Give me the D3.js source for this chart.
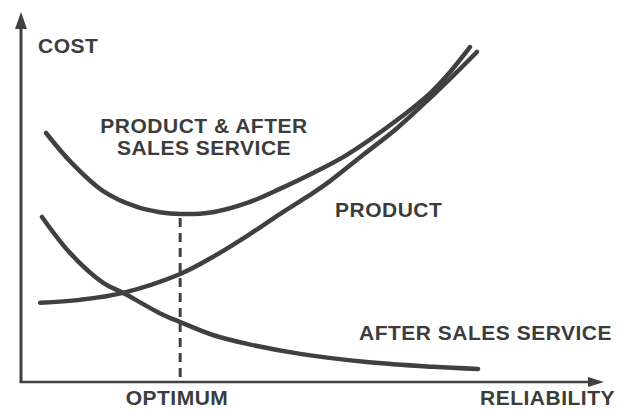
<!DOCTYPE html>
<html>
<head>
<meta charset="utf-8">
<script src="https://cdn.jsdelivr.net/npm/d3@7"></script>
<style>
    body { margin: 0; background: #fff; }
    .lbl { font-family: "Liberation Sans", Arial, sans-serif; font-weight: bold; font-size: 21px; fill: #3c3c3c; letter-spacing: 0.5px; }
</style>
</head>
<body>
<div id="chart"></div>
<script>
// curves: reliability (0-100) vs cost (0-100)
let productX   = [3.3, 10.1, 17.5, 27.3, 32.9, 38.8, 44.4, 50.1, 53.0, 58.7, 64.5, 70.2, 74.4, 78.2];
let productY   = [21.4, 22.2, 24.1, 29.2, 33.8, 39.5, 45.4, 51.1, 54.3, 61.4, 68.6, 76.8, 83.2, 89.2];

let combinedX  = [4.3, 8.4, 14.1, 19.9, 23.8, 27.3, 32.9, 38.8, 44.4, 50.1, 55.9, 64.5, 70.2, 73.6, 77.0];
let combinedY  = [67.3, 59.7, 51.6, 47.3, 45.9, 45.4, 45.9, 48.4, 52.2, 56.5, 61.4, 70.8, 78.1, 83.8, 90.5];

let serviceX   = [3.6, 8.4, 14.1, 17.5, 23.8, 27.3, 32.9, 38.8, 47.9, 59.3, 70.7, 78.4];
let serviceY   = [44.6, 34.9, 26.8, 24.1, 18.6, 16.2, 12.7, 10.3, 7.6, 5.4, 4.1, 3.5];

let optimumX = 27.3;
let optimumY = 45.4;

let width = 627, height = 410;
let margin = {top: 12, right: 23, bottom: 28, left: 21};

let svg = d3.select("#chart").append("svg")
    .attr("width", width)
    .attr("height", height);

let x = d3.scaleLinear().domain([0, 100]).range([margin.left, width - margin.right]);
let y = d3.scaleLinear().domain([0, 100]).range([height - margin.bottom, margin.top]);

let ink = "#404040";

// axes with arrow heads
let x0 = x(0), y0 = y(0), xEnd = x(100), yEnd = y(100);

svg.append("line")
    .attr("x1", x0).attr("y1", y0)
    .attr("x2", x0).attr("y2", yEnd + 14)
    .attr("stroke", ink).attr("stroke-width", 3);

svg.append("path")
    .attr("d", `M${x0},${yEnd} L${x0 - 6},${yEnd + 17} L${x0 + 6},${yEnd + 17} Z`)
    .attr("fill", ink);

svg.append("line")
    .attr("x1", x0 - 1.5).attr("y1", y0)
    .attr("x2", xEnd - 14).attr("y2", y0)
    .attr("stroke", ink).attr("stroke-width", 2.6);

svg.append("path")
    .attr("d", `M${xEnd},${y0} L${xEnd - 16},${y0 - 5} L${xEnd - 16},${y0 + 5} Z`)
    .attr("fill", ink);

// curves
let line = d3.line()
    .x(d => x(d[0]))
    .y(d => y(d[1]))
    .curve(d3.curveCatmullRom.alpha(0.5));

let series = [
    d3.zip(productX, productY),
    d3.zip(combinedX, combinedY),
    d3.zip(serviceX, serviceY)
];

svg.selectAll("path.curve")
    .data(series)
    .enter()
    .append("path")
    .attr("class", "curve")
    .attr("d", line)
    .attr("fill", "none")
    .attr("stroke", ink)
    .attr("stroke-width", 4.5)
    .attr("stroke-linecap", "round");

// optimum marker
svg.append("line")
    .attr("x1", x(optimumX)).attr("y1", y(optimumY) + 4)
    .attr("x2", x(optimumX)).attr("y2", y(1.3))
    .attr("stroke", ink)
    .attr("stroke-width", 3)
    .attr("stroke-dasharray", "9,6");

// labels
let labels = [
    {text: "COST", x: 38, y: 53, anchor: "start"},
    {text: "PRODUCT & AFTER", x: 204, y: 133, anchor: "middle"},
    {text: "SALES SERVICE", x: 204, y: 155, anchor: "middle"},
    {text: "PRODUCT", x: 335, y: 217, anchor: "start"},
    {text: "AFTER SALES SERVICE", x: 612, y: 340, anchor: "end"},
    {text: "OPTIMUM", x: 177, y: 405, anchor: "middle"},
    {text: "RELIABILITY", x: 615, y: 405, anchor: "end"}
];

svg.selectAll("text.lbl")
    .data(labels)
    .enter()
    .append("text")
    .attr("class", "lbl")
    .attr("x", d => d.x)
    .attr("y", d => d.y)
    .attr("text-anchor", d => d.anchor)
    .text(d => d.text);
</script>
</body>
</html>
